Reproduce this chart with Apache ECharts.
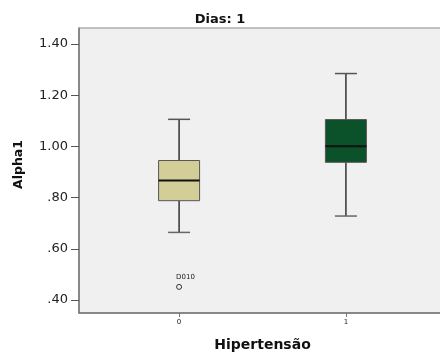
<!DOCTYPE html>
<html><head><meta charset="utf-8">
<script src="https://cdn.jsdelivr.net/npm/echarts@6/dist/echarts.min.js"></script>
<style>html,body{margin:0;padding:0;background:#fff}#c{width:440px;height:356px}</style>
</head><body><div id="c"></div>
<script>
const categories = [0, 1];
const categoryLabels = ['0', '1'];
const whiskerLow = [0.664, 0.728];
const q1 = [0.788, 0.938];
const median = [0.867, 1.001];
const q3 = [0.945, 1.105];
const whiskerHigh = [1.106, 1.285];
const boxColors = ['#d3ce97', '#0b512a'];
const outliers = [[0, 0.451, 'D010']];
const yTicks = [0.4, 0.6, 0.8, 1.0, 1.2, 1.4];

const boxData = categories.map((c, i) => [c, whiskerLow[i], q1[i], median[i], q3[i], whiskerHigh[i], i]);
const FONT = 'DejaVu Sans';

function renderBox(params, api) {
  const x = api.value(0);
  const pLow = api.coord([x, api.value(1)]);
  const pQ1 = api.coord([x, api.value(2)]);
  const pMed = api.coord([x, api.value(3)]);
  const pQ3 = api.coord([x, api.value(4)]);
  const pHigh = api.coord([x, api.value(5)]);
  const idx = api.value(6);
  const cx = pMed[0];
  const bw = 41, cw = 22;
  const line = (x1, y1, x2, y2, color, w) => ({type: 'line', shape: {x1, y1, x2, y2}, style: {stroke: color, lineWidth: w}});
  return {type: 'group', children: [
    line(cx, pHigh[1], cx, pQ3[1], '#333', 1.5),
    line(cx, pQ1[1], cx, pLow[1], '#333', 1.5),
    line(cx - cw / 2, pHigh[1], cx + cw / 2, pHigh[1], '#555', 1.5),
    line(cx - cw / 2, pLow[1], cx + cw / 2, pLow[1], '#666', 1.5),
    {type: 'rect', shape: {x: cx - bw / 2, y: pQ3[1], width: bw, height: pQ1[1] - pQ3[1]},
      style: {fill: boxColors[idx], stroke: '#555', lineWidth: 1}},
    line(cx - bw / 2, pMed[1], cx + bw / 2, pMed[1], '#111', 2)
  ]};
}

const chart = echarts.init(document.getElementById('c'), null, {renderer: 'canvas'});
chart.setOption({
  animation: false,
  backgroundColor: '#fff',
  title: {text: 'Dias: 1', left: 215, top: 8, textAlign: 'center',
    textStyle: {fontFamily: FONT, fontSize: 13, fontWeight: 'bold', color: '#111'}},
  grid: {left: 79, top: 28, width: 367, bottom: 43, outerBoundsMode: 'none', containLabel: false,
    show: true, backgroundColor: '#f0f0f0', borderColor: '#888', borderWidth: 1},
  xAxis: {
    type: 'value', min: -0.6, max: 1.6,
    name: 'Hipertensão', nameLocation: 'middle', nameGap: 25,
    nameTextStyle: {fontFamily: FONT, fontSize: 14, fontWeight: 'bold', color: '#111'},
    axisLine: {show: true, onZero: false, lineStyle: {color: '#777', width: 1.5}},
    axisTick: {show: true, length: 4, customValues: categories, lineStyle: {color: '#777'}},
    axisLabel: {customValues: categories, fontFamily: FONT, fontSize: 7, color: '#222', margin: 6,
      formatter: v => categoryLabels[categories.indexOf(v)] ?? ''},
    splitLine: {show: false}
  },
  yAxis: {
    type: 'value', min: 0.349, max: 1.463,
    name: 'Alpha1', nameLocation: 'middle', nameGap: 54,
    nameTextStyle: {fontFamily: FONT, fontSize: 12.5, fontWeight: 'bold', color: '#111', padding: [0, 0, 0, 12]},
    axisLine: {show: true, onZero: false, lineStyle: {color: '#777', width: 1.5}},
    axisTick: {show: true, length: 8, customValues: yTicks, lineStyle: {color: '#555'}},
    axisLabel: {customValues: yTicks, fontFamily: FONT, fontSize: 13, color: '#222', margin: 11,
      formatter: v => v >= 1 ? v.toFixed(2) : v.toFixed(2).replace(/^0/, '')},
    splitLine: {show: false}
  },
  series: [
    {type: 'custom', renderItem: renderBox, data: boxData, encode: {x: 0, y: [1, 5]}, clip: false, z: 2},
    {type: 'scatter', data: outliers.map(o => [o[0], o[1], o[2]]), symbol: 'circle', symbolSize: 5, z: 3,
      itemStyle: {color: '#f0f0f0', borderColor: '#333', borderWidth: 1, opacity: 1},
      label: {show: true, position: [0, -10], formatter: p => p.data[2], fontFamily: FONT, fontSize: 7, color: '#222'}}
  ]
});
</script></body></html>
